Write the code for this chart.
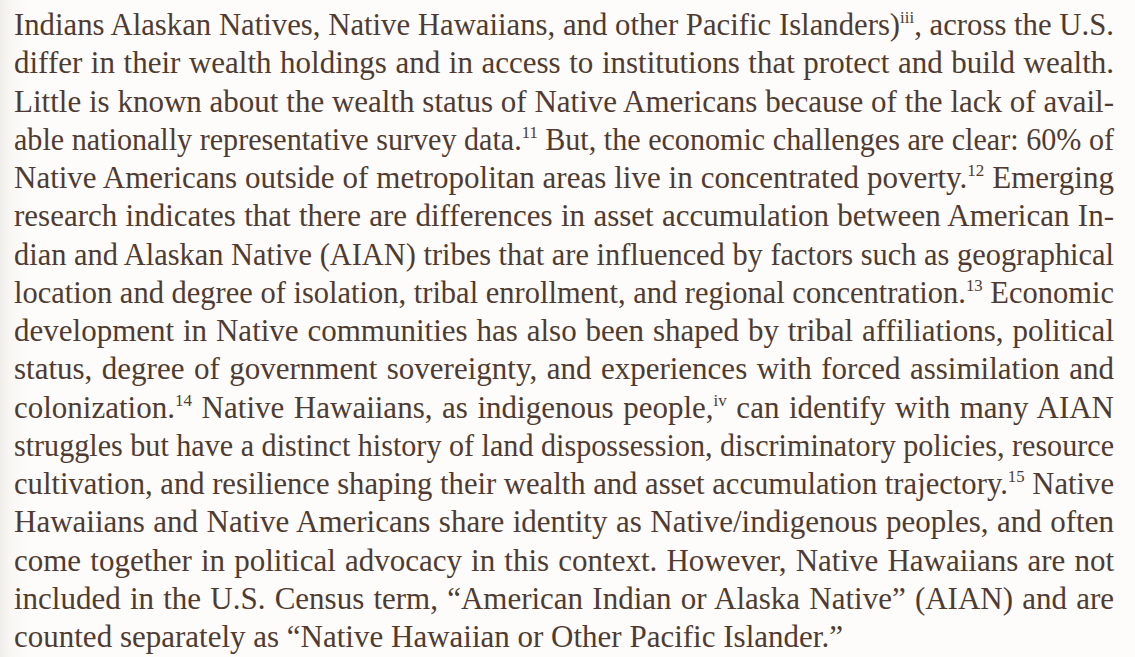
<!DOCTYPE html>
<html>
<head>
<meta charset="utf-8">
<script src="https://cdn.jsdelivr.net/npm/chart.js@4.4.1/dist/chart.umd.min.js"></script>
<style>
  html, body { margin: 0; padding: 0; }
  body {
    width: 1135px; height: 657px; overflow: hidden;
    background: linear-gradient(to right, #efede9 0px, #f8f7f4 10px, #fdfcfb 28px, #fdfcfb 100%);
    font-family: "Liberation Serif", "Times New Roman", serif;
    color: #4f3b31;
  }
  #text { position: absolute; left: 14px; top: 6px; width: 1100px; }
  .line { height: 38.25px; line-height: 38.25px; font-size: 31px; white-space: nowrap; }
  .line span.in { display: inline-block; transform-origin: 0 50%; }
  sup { font-size: 0.55em; vertical-align: baseline; position: relative; top: -0.7em; line-height: 0; }
</style>
</head>
<body>
<div id="text"></div>
<script>
// Text lines of the paragraph, as printed; ^{...} marks a superscript note.
const lines = [
  "Indians Alaskan Natives, Native Hawaiians, and other Pacific Islanders)^{iii}, across the U.S.",
  "differ in their wealth holdings and in access to institutions that protect and build wealth.",
  "Little is known about the wealth status of Native Americans because of the lack of avail-",
  "able nationally representative survey data.^{11} But, the economic challenges are clear: 60% of",
  "Native Americans outside of metropolitan areas live in concentrated poverty.^{12} Emerging",
  "research indicates that there are differences in asset accumulation between American In-",
  "dian and Alaskan Native (AIAN) tribes that are influenced by factors such as geographical",
  "location and degree of isolation, tribal enrollment, and regional concentration.^{13} Economic",
  "development in Native communities has also been shaped by tribal affiliations, political",
  "status, degree of government sovereignty, and experiences with forced assimilation and",
  "colonization.^{14} Native Hawaiians, as indigenous people,^{iv} can identify with many AIAN",
  "struggles but have a distinct history of land dispossession, discriminatory policies, resource",
  "cultivation, and resilience shaping their wealth and asset accumulation trajectory.^{15} Native",
  "Hawaiians and Native Americans share identity as Native/indigenous peoples, and often",
  "come together in political advocacy in this context. However, Native Hawaiians are not",
  "included in the U.S. Census term, \u201cAmerican Indian or Alaska Native\u201d (AIAN) and are",
  "counted separately as \u201cNative Hawaiian or Other Pacific Islander.\u201d"
];
const W = 1100;
const host = document.getElementById('text');
lines.forEach((ln, i) => {
  const div = document.createElement('div');
  div.className = 'line';
  const span = document.createElement('span');
  span.className = 'in';
  const parts = ln.split(/\^\{([^}]*)\}/);
  parts.forEach((p, k) => {
    if (k % 2 === 0) { if (p) span.appendChild(document.createTextNode(p)); }
    else { const s = document.createElement('sup'); s.textContent = p; span.appendChild(s); }
  });
  div.appendChild(span);
  host.appendChild(div);
  if (i === lines.length - 1) return;
  const w = span.getBoundingClientRect().width;
  const spaces = (ln.match(/ /g) || []).length;
  if (w < W && spaces > 0) {
    span.style.wordSpacing = ((W - w) / spaces) + 'px';
  } else if (w > W) {
    span.style.transform = 'scaleX(' + (W / w) + ')';
  }
});
</script>
</body>
</html>
